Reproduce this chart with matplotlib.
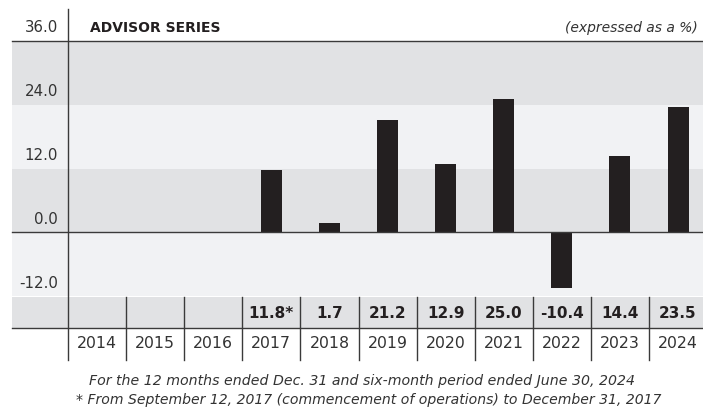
import matplotlib
matplotlib.use("Agg")
import matplotlib.pyplot as plt
from matplotlib.transforms import offset_copy

plt.rcParams['font.family'] = ['DejaVu Sans']

# ---- data ----
years = ["2014", "2015", "2016", "2017", "2018", "2019", "2020", "2021", "2022", "2023", "2024"]
returns = [None, None, None, 11.8, 1.7, 21.2, 12.9, 25.0, -10.4, 14.4, 23.5]
table_labels = ["", "", "", "11.8*", "1.7", "21.2", "12.9", "25.0", "-10.4", "14.4", "23.5"]
ytick_values = [-12, 0, 12, 24, 36]
ytick_labels = ["-12.0", "0.0", "12.0", "24.0", "36.0"]
title = "ADVISOR SERIES"
unit_note = "(expressed as a %)"
footnote1 = "For the 12 months ended Dec. 31 and six-month period ended June 30, 2024"
footnote2 = "* From September 12, 2017 (commencement of operations) to December 31, 2017"

# ---- style ----
W, H = 703, 408
BAR = "#231f20"
DARK_BAND = "#e1e2e4"
LIGHT_BAND = "#f1f2f4"
LINE = "#3a3a3a"
TEXT = "#333333"

fig = plt.figure(figsize=(W / 100, H / 100), dpi=100)
ax_left, ax_top, ax_bottom = 68, 41, 296
ax = fig.add_axes([ax_left / W, 1 - ax_bottom / H, 1 - ax_left / W, (ax_bottom - ax_top) / H])
col_w = 58.1
x_right = -0.5 + (W - ax_left) / col_w
ax.set_xlim(-0.5, x_right)
ax.set_ylim(-12, 36)
ax.axis("off")
px_per_unit = (ax_bottom - ax_top) / 48.0

def py_to_data(py):
    return (232.25 - py) / px_per_unit

def py_to_axes(py):
    return (ax_bottom - py) / (ax_bottom - ax_top)

xmin_ext = (12 - ax_left) / (W - ax_left)

# background bands
for lo, hi, c in [(24, 36, DARK_BAND), (12, 24, LIGHT_BAND), (0, 12, DARK_BAND), (-12, 0, LIGHT_BAND)]:
    ax.axhspan(lo, hi, xmin=xmin_ext, xmax=1, color=c, lw=0, zorder=0, clip_on=False)
# table value row band
row1_top, row1_bot, row2_bot = 297, 328, 360
ax.axhspan(py_to_data(row1_bot), py_to_data(row1_top), xmin=xmin_ext, xmax=1,
           color=DARK_BAND, lw=0, zorder=0, clip_on=False)

# bars
xs = [i for i, v in enumerate(returns) if v is not None]
vals = [v for v in returns if v is not None]
ax.bar(xs, vals, width=0.36, color=BAR, zorder=2)

# horizontal rules
for yv in [36, 0]:
    ax.axhline(yv, xmin=xmin_ext, xmax=1, color=LINE, lw=1.0, zorder=3, clip_on=False)
ax.axhline(py_to_data(row1_bot), xmin=xmin_ext, xmax=1, color=LINE, lw=1.0, zorder=3, clip_on=False)

# vertical axis line
ax.axvline(-0.5, ymin=py_to_axes(row2_bot), ymax=py_to_axes(9), color=LINE, lw=1.0, zorder=3, clip_on=False)
# table separators
for i in range(len(years) - 1):
    ax.axvline(i + 0.5, ymin=py_to_axes(row2_bot), ymax=py_to_axes(row1_top),
               color=LINE, lw=1.0, zorder=3, clip_on=False)

# y tick labels (placed above their gridlines)
tl_tr = offset_copy(ax.get_yaxis_transform(), fig=fig, x=-10, y=8.5, units='dots')
for v, lab in zip(ytick_values, ytick_labels):
    ax.text(0, v, lab, transform=tl_tr, ha="right", va="baseline",
            fontsize=10.8, color=TEXT, clip_on=False)

# table texts
y_row1 = py_to_data((row1_top + row1_bot) / 2 + 1)
y_row2 = py_to_data((row1_bot + row2_bot) / 2)
for i, (yr, lab) in enumerate(zip(years, table_labels)):
    ax.text(i, y_row1, lab, ha="center", va="center", fontsize=11,
            fontweight="bold", color=BAR, clip_on=False)
    ax.text(i, y_row2, yr, ha="center", va="center", fontsize=11.3,
            color=TEXT, clip_on=False)

# title and note
fig.text(90 / W, 1 - 31.7 / H, title, ha="left", va="baseline", fontsize=10,
         fontweight="bold", color=BAR)
fig.text(698 / W, 1 - 31.7 / H, unit_note, ha="right", va="baseline", fontsize=10,
         fontstyle="italic", color=TEXT)

# footnotes
fig.text(361.7 / W, 1 - 385 / H, footnote1, ha="center", va="baseline", fontsize=10.15,
         fontstyle="italic", color=TEXT)
fig.text(368.3 / W, 1 - 404 / H, footnote2, ha="center", va="baseline", fontsize=10.1,
         fontstyle="italic", color=TEXT)

fig.savefig("out.png", dpi=100)
